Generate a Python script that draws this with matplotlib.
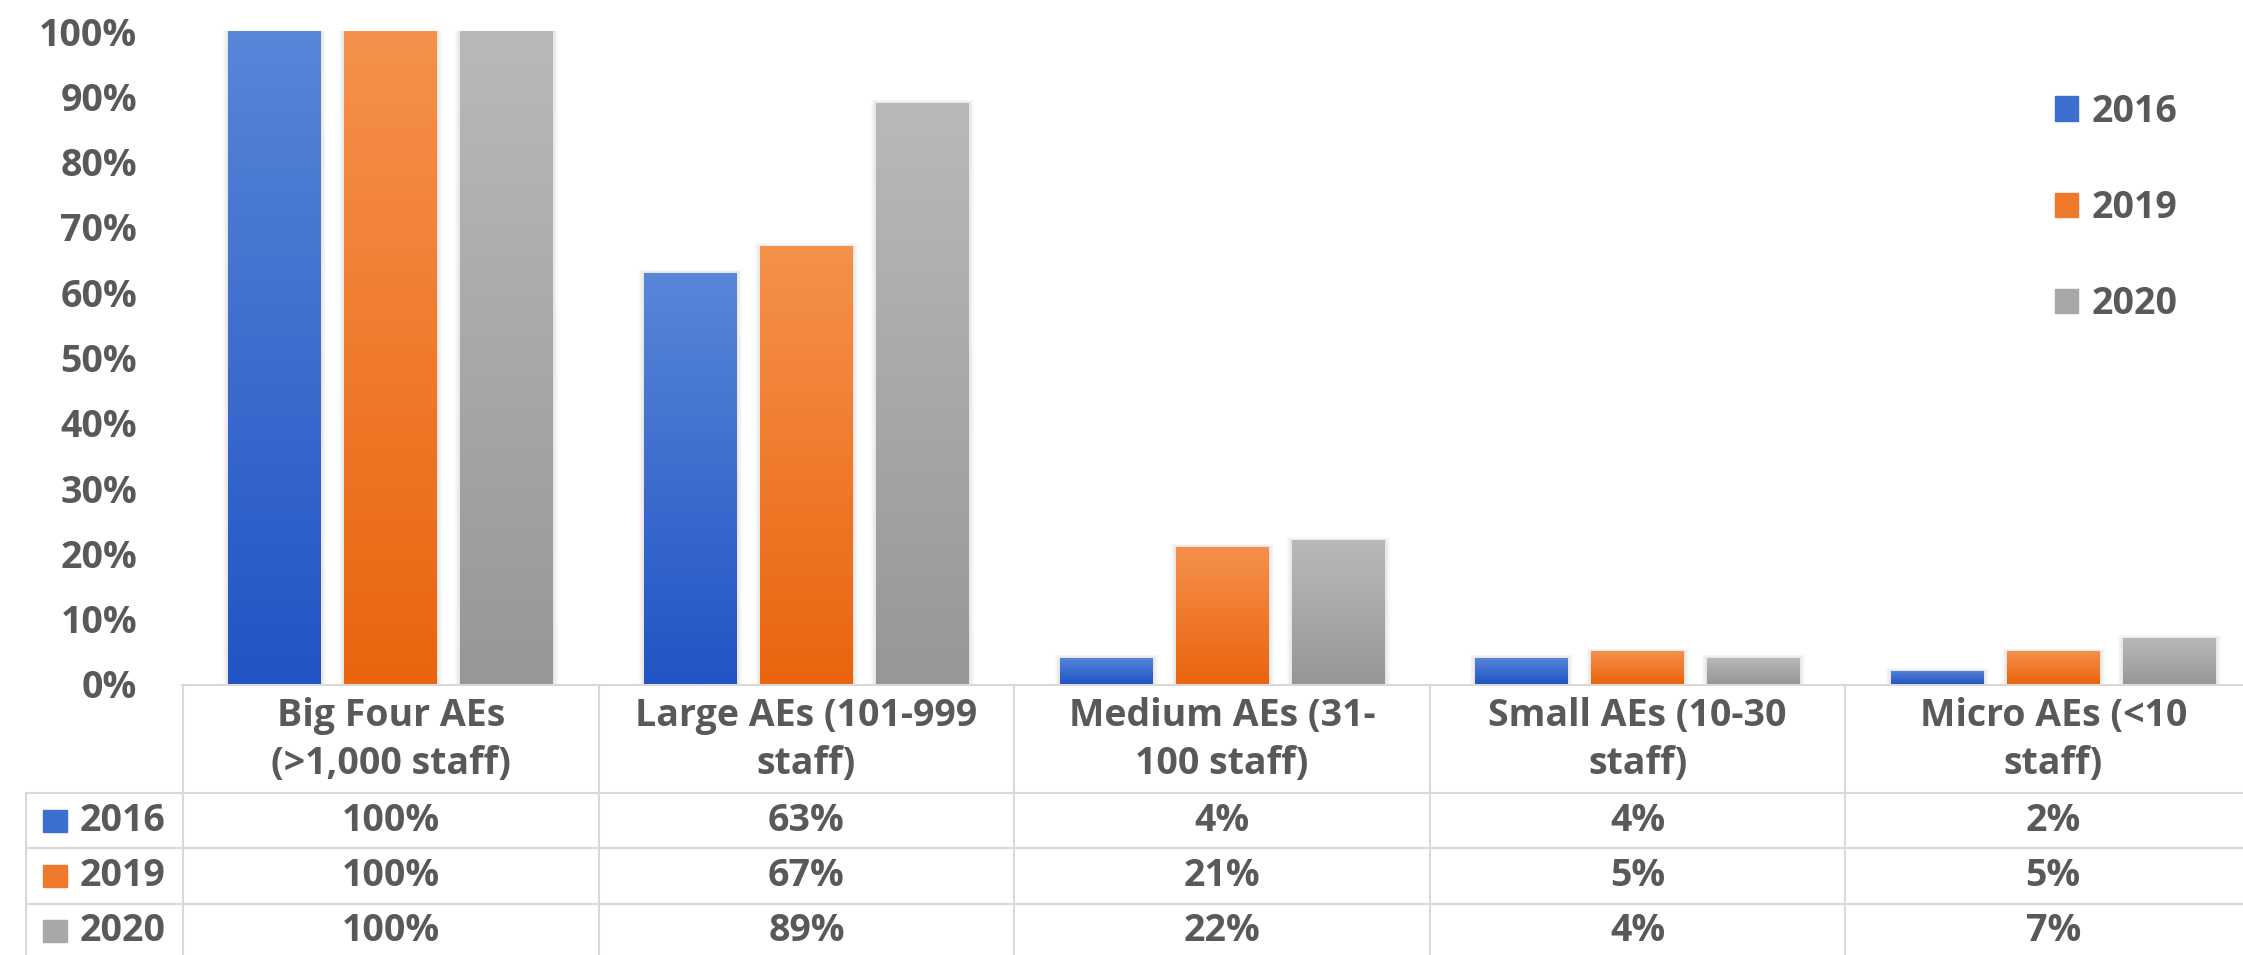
import numpy as np
import matplotlib.pyplot as plt
import matplotlib.transforms as mtransforms
from matplotlib.colors import LinearSegmentedColormap
from matplotlib.patches import Rectangle
from matplotlib.lines import Line2D

categories = ["Big Four AEs\n(>1,000 staff)", "Large AEs (101-999\nstaff)",
              "Medium AEs (31-\n100 staff)", "Small AEs (10-30\nstaff)",
              "Micro AEs (<10\nstaff)"]
years = ["2016", "2019", "2020"]
v2016 = [100, 63, 4, 4, 2]
v2019 = [100, 67, 21, 5, 5]
v2020 = [100, 89, 22, 4, 7]
series = [v2016, v2019, v2020]

top_colors = ["#5886d9", "#f5914b", "#b9b9b9"]
bottom_colors = ["#2254c4", "#ea640e", "#979797"]
mid_colors = ["#3d6fd0", "#f07a2c", "#a8a8a8"]
text_color = "#595959"
line_color = "#d9d9d9"

plt.rcParams['font.family'] = ['Open Sans', 'DejaVu Sans']
plt.rcParams['font.weight'] = 'bold'
fs = 27

W, H = 2243, 955
fig = plt.figure(figsize=(W / 100, H / 100), dpi=100)

def fx(px):
    return px / W

def fy(py):
    return 1 - py / H

col_w = 415.6
ax = fig.add_axes([fx(183), fy(684), 5 * col_w / W, 653 / H])
ax.set_xlim(-0.5, 4.5)
ax.set_ylim(0, 100)

x = np.arange(len(categories))
bw = 93 / col_w
step = 116 / col_w
px_x = 1 / col_w
px_y = 100 / 653

for k, (vals, yr) in enumerate(zip(series, years)):
    bars = ax.bar(x + (k - 1) * step, vals, width=bw, color="none",
                  edgecolor="none", label=yr, zorder=3)
    cmap = LinearSegmentedColormap.from_list(f"g{k}", [top_colors[k], bottom_colors[k]])
    grad = np.linspace(0, 1, 256).reshape(-1, 1)
    for b in bars:
        x0, h = b.get_x(), b.get_height()
        # soft shadow
        for s in range(1, 6):
            ax.add_patch(Rectangle((x0 - s * px_x, 0), bw + 2 * s * px_x, h + s * px_y * 0.6,
                                   color="black", alpha=0.018, lw=0, zorder=2))
        im = ax.imshow(grad, extent=[x0, x0 + bw, 0, h], aspect="auto",
                       cmap=cmap, origin="upper", zorder=3)
        im.set_clip_path(b)

ax.set_xlim(-0.5, 4.5)
ax.set_ylim(0, 100)
for sp in ax.spines.values():
    sp.set_visible(False)
ax.set_xticks([])
ax.set_yticks(range(0, 101, 10))
ax.set_yticklabels([f"{v}%" for v in range(0, 101, 10)], fontsize=fs,
                   color=text_color, fontweight="bold")
ax.tick_params(axis="y", length=0, pad=33)

# legend
handles = [Rectangle((0, 0), 1, 1, color=c) for c in mid_colors]
fig.legend(handles, years, loc="upper left", bbox_to_anchor=(fx(2036), fy(74)),
           frameon=False, labelcolor=text_color,
           handlelength=0.62, handleheight=0.62, handletextpad=0.35,
           labelspacing=1.55, borderpad=0, prop={"weight": "bold", "size": fs})

# data table
trans = mtransforms.blended_transform_factory(ax.transData, fig.transFigure)
lw = 1.5
fig.add_artist(Line2D([fx(182), 1.01], [fy(685), fy(685)], color=line_color, lw=lw,
                      transform=fig.transFigure))
for yy in [793, 848, 904]:
    fig.add_artist(Line2D([fx(26), 1.01], [fy(yy), fy(yy)], color=line_color, lw=lw,
                          transform=fig.transFigure))
fig.add_artist(Line2D([fx(26), fx(26)], [fy(793), fy(960)], color=line_color, lw=lw,
                      transform=fig.transFigure))
for i in range(len(categories) + 1):
    fig.add_artist(Line2D([i - 0.5, i - 0.5], [fy(685), fy(960)], color=line_color,
                          lw=lw, transform=trans, clip_on=False))

for i, cat in enumerate(categories):
    fig.text(i, fy(740), cat, transform=trans, ha="center", va="center",
             fontsize=fs, color=text_color, fontweight="bold", linespacing=1.35)

row_centers = [821, 876, 931]
for k, (vals, yr) in enumerate(zip(series, years)):
    yc = row_centers[k]
    fig.add_artist(Rectangle((fx(43), fy(yc + 11)), 24 / W, 22 / H,
                             color=mid_colors[k], transform=fig.transFigure))
    fig.text(fx(80), fy(yc), yr, ha="left", va="center", fontsize=fs,
             color=text_color, fontweight="bold")
    for i, v in enumerate(vals):
        fig.text(i, fy(yc), f"{v}%", transform=trans, ha="center", va="center",
                 fontsize=fs, color=text_color, fontweight="bold")

fig.savefig("out.png", dpi=100, facecolor="white")
